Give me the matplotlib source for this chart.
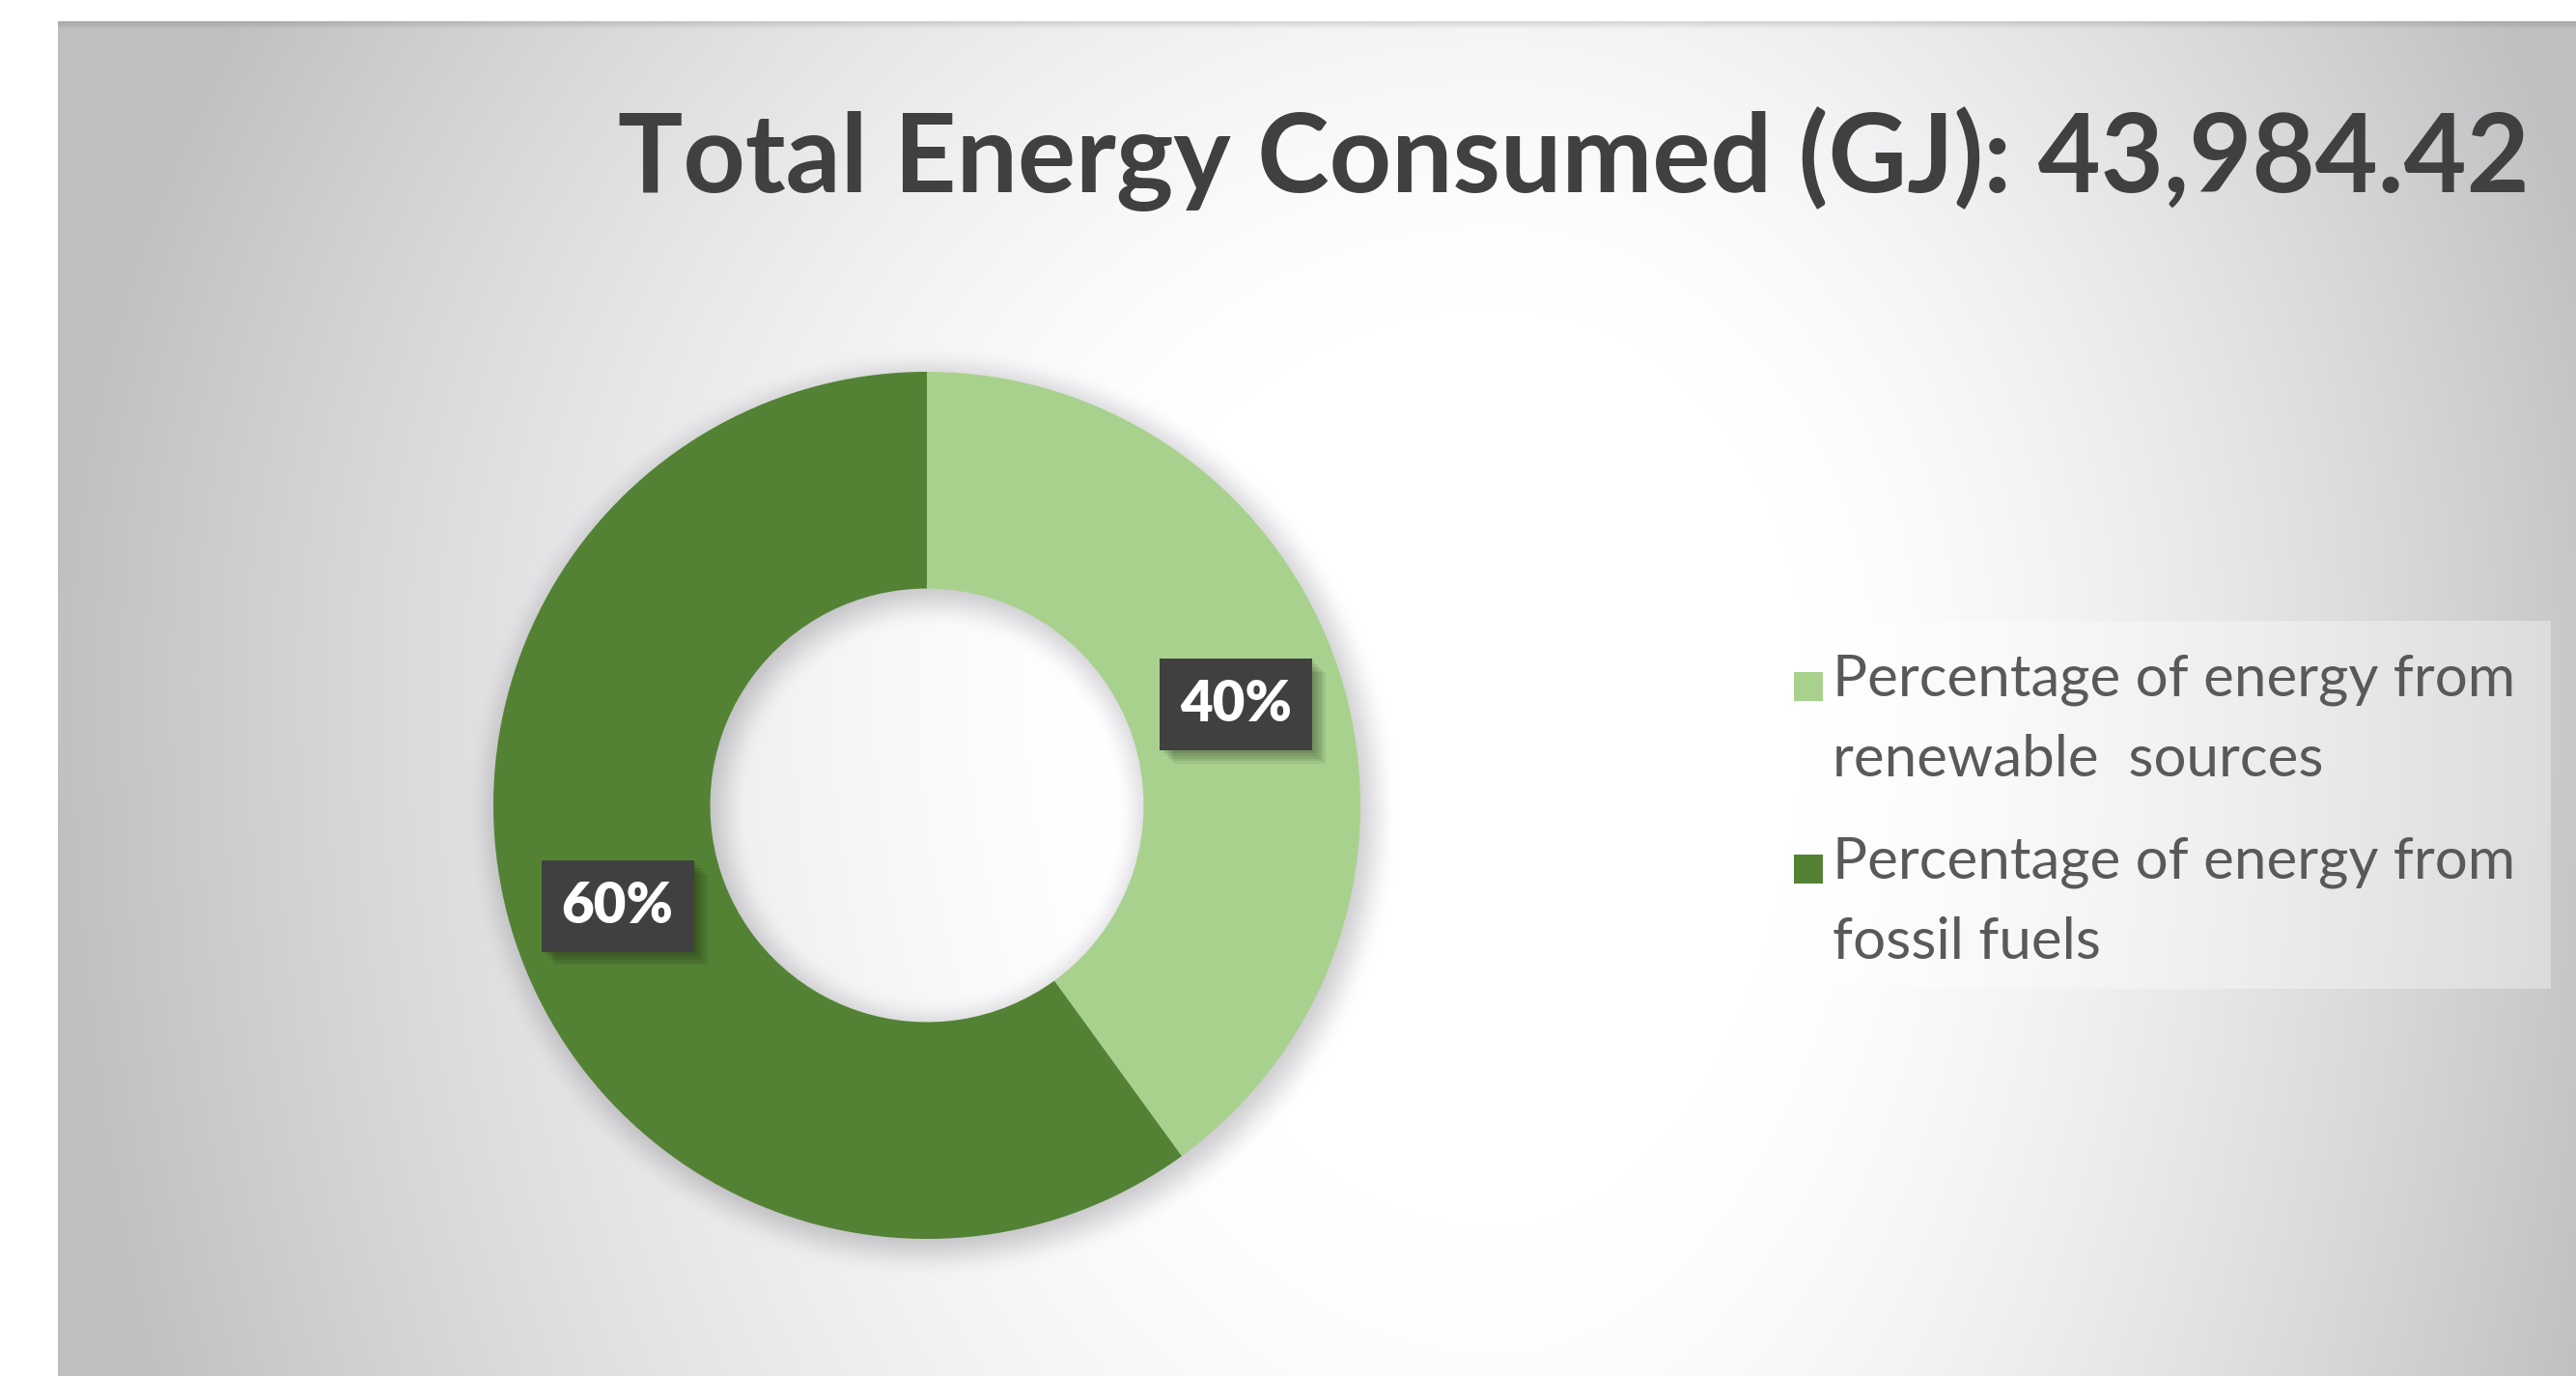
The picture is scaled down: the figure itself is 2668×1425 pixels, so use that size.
import numpy as np
import matplotlib
matplotlib.use("Agg")
import matplotlib.pyplot as plt
import matplotlib.patheffects as pe
from matplotlib.patches import Rectangle

plt.rcParams['font.family'] = ['Lato', 'DejaVu Sans']

# 데이터
title = "Total Energy Consumed (GJ): 43,984.42"
labels = ["Percentage of energy from\nrenewable  sources",
          "Percentage of energy from\nfossil fuels"]
shares = [40, 60]
colors = ["#a9d18e", "#548235"]

W, H = 2668, 1425
fig = plt.figure(figsize=(W / 100, H / 100), dpi=100)


def fx(x):
    return x / W


def fy(y):
    return 1 - y / H


def soft(x, w):
    t = np.clip(0.5 + x / (2 * w), 0, 1)
    return t * t * (3 - 2 * t)


# 배경 (가운데 밝은 방사형 그라데이션 + 도넛 그림자)
yy, xx = np.mgrid[0:H, 0:W].astype(float)
dx = xx - 1550
dy = yy - 700
dx = np.where(dx < 0, dx, dx * 1.25)
dy = np.where(dy < 0, dy * 1.05, dy * 0.7)
t = np.clip((np.hypot(dx, dy) - 400) / 1100, 0, 1)
val = 1 - 0.25 * t ** 1.4

cx, cy, R = 960, 834, 449
d = np.hypot(xx - cx - 5, yy - cy - 7)
ring = soft(R + 8 - d, 26) * soft(d - (R / 2 - 8), 26)
val = val * (1 - 0.2 * ring)

top, left = 22, 60
edge = np.clip((yy - top) / 8, 0, 1)
val = val * (0.88 + 0.12 * edge)
val[:top, :] = 1
val[:, :left] = 1
img = np.dstack([val, val, val * 1.01]).clip(0, 1)

bg = fig.add_axes([0, 0, 1, 1])
bg.imshow(img, extent=(0, W, H, 0), aspect='auto', interpolation='bilinear')
bg.set_axis_off()

# 도넛 차트
side = 2 * 1.1 * R
ax = fig.add_axes([fx(cx - side / 2), fy(cy + side / 2), side / W, side / H])
wedges, _, autotexts = ax.pie(shares, colors=colors, startangle=90, counterclock=False,
                              radius=1, wedgeprops=dict(width=0.5, edgecolor='none'),
                              autopct='%.0f%%', pctdistance=0.75,
                              textprops=dict(color='white', fontweight='heavy', fontsize=40))
ax.set_xlim(-1.1, 1.1)
ax.set_ylim(-1.1, 1.1)
ax.set_axis_off()

rend = fig.canvas.get_renderer()


def fit(txt, width_px):
    w = txt.get_window_extent(rend).width
    txt.set_fontsize(txt.get_fontsize() * width_px / w)


fit(autotexts[0], 116)
for a in autotexts:
    a.set_fontsize(autotexts[0].get_fontsize())
    a.set_bbox(dict(boxstyle='square,pad=0.36', fc='#404040', ec='none'))
    shadows = [pe.SimplePatchShadow(offset=(o, -o), shadow_rgbFace='black', alpha=0.07)
               for o in (2, 4, 6, 8, 10)]
    a.get_bbox_patch().set_path_effects(shadows + [pe.Normal()])

# 제목
tt = fig.text(fx(2620), fy(199), title, ha='right', va='baseline',
              fontsize=72, fontweight='bold', color='#404040')
fit(tt, 1982)

# 범례
fig.add_artist(Rectangle((fx(1855), fy(1024)), (2642 - 1855) / W, (1024 - 643) / H,
                         transform=fig.transFigure, fc='white', ec='none', alpha=0.35))
rows = [711, 900]
for lab, col, y in zip(labels, colors, rows):
    fig.add_artist(Rectangle((fx(1858), fy(y + 15)), 30 / W, 30 / H,
                             transform=fig.transFigure, fc=col, ec='none'))
    lt = fig.text(fx(1898), fy(y), lab, ha='left', va='top', fontsize=44,
                  color='#595959', linespacing=1.66)
    fit(lt, 708)
    # 첫 줄 가운데가 마커 높이에 오도록
    lt.set_y(fy(y - 34))

fig.savefig("out.png", dpi=100)
